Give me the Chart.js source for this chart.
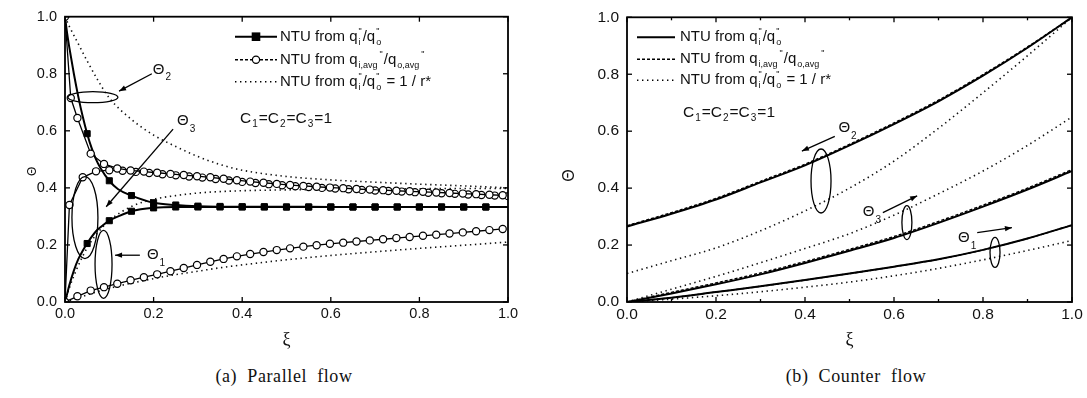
<!DOCTYPE html>
<html><head><meta charset="utf-8">
<script src="https://cdn.jsdelivr.net/npm/chart.js@4.4.0/dist/chart.umd.min.js"></script>
<style>
html,body{margin:0;padding:0;background:#fff;width:1087px;height:398px;overflow:hidden}
.box{position:absolute;top:0}
#wa{left:0;width:540px;height:360px}
#wb{left:540px;width:547px;height:360px}
.cap{position:absolute;top:366px;font-family:"Liberation Serif","DejaVu Serif",serif;font-size:18px;color:#111;word-spacing:5px;letter-spacing:0.6px;transform:translateX(-50%);white-space:nowrap}
</style></head><body>
<div class="box" id="wa"><canvas id="ca"></canvas></div>
<div class="box" id="wb"><canvas id="cb"></canvas></div>
<div class="cap" style="left:284px">(a) Parallel flow</div>
<div class="cap" style="left:856px">(b) Counter flow</div>
<script>
const FF = '"Liberation Sans", Arial, sans-serif';
const tickLabels = ['0.0','0.2','0.4','0.6','0.8','1.0'];

// ---------- (a) Parallel flow ----------
const parLineXi  = [0,0.005,0.01,0.02,0.03,0.04,0.05,0.06,0.07,0.08,0.1,0.12,0.15,0.2,0.25,0.3,0.4,0.5,0.6,0.7,0.8,0.9,1.0];
const parT2Solid = [1.0,0.94,0.89,0.80,0.72,0.65,0.59,0.54,0.50,0.47,0.425,0.395,0.373,0.348,0.34,0.336,0.334,0.334,0.333,0.333,0.333,0.333,0.333];
const parT3Solid = [0,0.03,0.06,0.11,0.15,0.18,0.205,0.228,0.248,0.262,0.285,0.30,0.318,0.33,0.333,0.333,0.333,0.333,0.333,0.333,0.333,0.333,0.333];

const parSqXi = [0.05,0.1,0.15,0.2,0.25,0.3,0.35,0.4,0.45,0.5,0.55,0.6,0.65,0.7,0.75,0.8,0.85,0.9,0.95];
const parT2Sq = [0.59,0.425,0.373,0.348,0.34,0.336,0.335,0.334,0.334,0.333,0.333,0.333,0.333,0.333,0.333,0.333,0.333,0.333,0.333];
const parT3Sq = [0.205,0.285,0.318,0.33,0.333,0.333,0.333,0.333,0.333,0.333,0.333,0.333,0.333,0.333,0.333,0.333,0.333,0.333,0.333];

const parC2Xi = [0,0.013,0.028,0.058,0.088,0.118,0.148,0.178,0.208,0.238,0.268,0.298,0.328,0.358,0.388,0.418,0.448,0.478,0.508,0.538,0.568,0.598,0.628,0.658,0.688,0.718,0.748,0.778,0.808,0.838,0.868,0.898,0.928,0.958,0.988];
const parT2Avg = [1.0,0.715,0.645,0.52,0.484,0.468,0.461,0.457,0.453,0.449,0.445,0.441,0.437,0.432,0.427,0.422,0.418,0.414,0.41,0.407,0.404,0.401,0.399,0.396,0.394,0.392,0.39,0.388,0.386,0.384,0.382,0.38,0.378,0.376,0.374];
const parC3Xi = [0,0.01,0.04,0.07,0.1,0.13,0.16,0.19,0.22,0.25,0.28,0.31,0.34,0.37,0.4,0.43,0.46,0.49,0.52,0.55,0.58,0.61,0.64,0.67,0.7,0.73,0.76,0.79,0.82,0.85,0.88,0.91,0.94,0.97,1.0];
const parT3Avg = [0,0.34,0.437,0.458,0.462,0.46,0.456,0.452,0.448,0.444,0.44,0.436,0.431,0.426,0.421,0.417,0.413,0.409,0.406,0.403,0.4,0.398,0.395,0.393,0.391,0.389,0.387,0.385,0.383,0.381,0.379,0.377,0.375,0.373,0.371];
const parC1Xi = [0,0.028,0.058,0.088,0.118,0.148,0.178,0.208,0.238,0.268,0.298,0.328,0.358,0.388,0.418,0.448,0.478,0.508,0.538,0.568,0.598,0.628,0.658,0.688,0.718,0.748,0.778,0.808,0.838,0.868,0.898,0.928,0.958,0.988];
const parT1Avg = [0,0.02,0.04,0.052,0.064,0.076,0.087,0.097,0.108,0.119,0.13,0.141,0.151,0.16,0.168,0.175,0.182,0.188,0.194,0.199,0.204,0.208,0.212,0.216,0.22,0.224,0.228,0.232,0.236,0.24,0.244,0.248,0.252,0.256];

const parDotXi = [0,0.01,0.025,0.05,0.075,0.1,0.15,0.2,0.25,0.3,0.35,0.4,0.5,0.6,0.7,0.8,0.9,1.0];
const parT2Dot = [1.0,0.965,0.92,0.845,0.775,0.715,0.64,0.585,0.545,0.51,0.482,0.462,0.44,0.428,0.42,0.413,0.407,0.40];
const parT3Dot = [0,0.05,0.11,0.19,0.245,0.285,0.335,0.36,0.373,0.382,0.387,0.39,0.393,0.395,0.396,0.397,0.398,0.398];
const parT1Dot = [0,0.005,0.012,0.025,0.037,0.048,0.066,0.082,0.096,0.108,0.12,0.13,0.148,0.163,0.176,0.188,0.199,0.21];

// ---------- (b) Counter flow ----------
const cntXi    = [0,0.1,0.2,0.3,0.4,0.5,0.6,0.7,0.8,0.9,1.0];
const cntT2Sol = [0.265,0.31,0.36,0.42,0.48,0.55,0.625,0.705,0.795,0.893,1.0];
const cntT2Avg = [0.268,0.314,0.364,0.424,0.484,0.554,0.629,0.709,0.799,0.896,1.0];
const cntT2Dot = [0.10,0.145,0.19,0.25,0.32,0.40,0.495,0.61,0.735,0.865,1.0];
const cntT3Sol = [0,0.03,0.062,0.097,0.137,0.18,0.225,0.278,0.335,0.395,0.46];
const cntT3Avg = [0,0.034,0.067,0.102,0.142,0.185,0.23,0.283,0.34,0.4,0.465];
const cntT3Dot = [0,0.045,0.09,0.138,0.188,0.24,0.305,0.38,0.46,0.55,0.65];
const cntT1Sol = [0,0.015,0.035,0.055,0.077,0.10,0.124,0.15,0.183,0.223,0.27];
const cntT1Avg = [0,0.015,0.035,0.055,0.077,0.10,0.124,0.15,0.183,0.223,0.27];
const cntT1Dot = [0,0.01,0.022,0.036,0.052,0.07,0.092,0.118,0.148,0.181,0.216];

function pts(xs, ys){ return xs.map((x,i)=>({x:x,y:ys[i]})); }

const SOLID = {borderColor:'#000',borderWidth:2,pointRadius:0,showLine:true,cubicInterpolationMode:'monotone',fill:false};
const DOT   = {borderColor:'#111',borderWidth:1.6,borderDash:[1.4,3.6],pointRadius:0,showLine:true,cubicInterpolationMode:'monotone',fill:false};
const DASH  = {borderColor:'#000',borderWidth:1.4,borderDash:[3,2],pointRadius:0,showLine:true,cubicInterpolationMode:'monotone',fill:false};
const CIRC  = {borderColor:'#000',borderWidth:1.3,pointRadius:3.6,pointBorderWidth:1.2,pointBackgroundColor:'#fff',pointBorderColor:'#000',showLine:true,fill:false};
const SQ    = {showLine:false,pointStyle:'rect',pointRadius:4.3,pointBackgroundColor:'#000',pointBorderColor:'#000',borderColor:'#000'};

function rich(ctx, x, y, parts, size){
  let cx = x;
  ctx.textBaseline='middle'; ctx.textAlign='left'; ctx.fillStyle='#111';
  for (const p of parts){
    if (typeof p === 'string'){
      ctx.font = size+'px '+FF; ctx.fillText(p,cx,y); cx += ctx.measureText(p).width;
    } else {
      const s = p.size || Math.round(size*0.62);
      ctx.font = s+'px '+FF; let w = 0;
      if (p.sup){ ctx.fillText(p.sup,cx+1,y-size*0.36); w=Math.max(w,ctx.measureText(p.sup).width+1); }
      if (p.sub){ ctx.fillText(p.sub,cx+1,y+size*(p.dy||0.36)); w=Math.max(w,ctx.measureText(p.sub).width+1); }
      cx += w + (p.gap||1);
    }
  }
  return cx;
}

const deco = {
  id:'deco',
  afterDatasetsDraw(chart, args, o){
    const {ctx, chartArea:a, scales:{x,y}} = chart;
    ctx.save();
    ctx.strokeStyle='#000'; ctx.lineWidth=1.8;
    ctx.strokeRect(a.left,a.top,a.right-a.left,a.bottom-a.top);
    ctx.lineWidth=1.3;
    const L=5, Lm=3;
    const seg=(x1,y1,x2,y2)=>{ctx.beginPath();ctx.moveTo(x1,y1);ctx.lineTo(x2,y2);ctx.stroke();};
    x.ticks.forEach(t=>{const p=x.getPixelForValue(t.value);seg(p,a.bottom,p,a.bottom-L);seg(p,a.top,p,a.top+L);});
    y.ticks.forEach(t=>{const p=y.getPixelForValue(t.value);seg(a.left,p,a.left+L,p);seg(a.right,p,a.right-L,p);});
    if (o.minorX){ o.minorX.forEach(v=>{const p=x.getPixelForValue(v);seg(p,a.bottom,p,a.bottom-Lm);seg(p,a.top,p,a.top+Lm);}); }
    ctx.lineWidth=1.3;
    (o.ellipses||[]).forEach(e=>{ctx.beginPath();ctx.ellipse(x.getPixelForValue(e.x),y.getPixelForValue(e.y),e.rx,e.ry,0,0,Math.PI*2);ctx.stroke();});
    (o.arrows||[]).forEach(r=>{
      const x1=x.getPixelForValue(r.from[0]),y1=y.getPixelForValue(r.from[1]);
      const x2=x.getPixelForValue(r.to[0]),y2=y.getPixelForValue(r.to[1]);
      seg(x1,y1,x2,y2);
      const an=Math.atan2(y2-y1,x2-x1),h=7,w=2.6;
      ctx.beginPath();ctx.moveTo(x2,y2);
      ctx.lineTo(x2-h*Math.cos(an)+w*Math.sin(an),y2-h*Math.sin(an)-w*Math.cos(an));
      ctx.lineTo(x2-h*Math.cos(an)-w*Math.sin(an),y2-h*Math.sin(an)+w*Math.cos(an));
      ctx.closePath();ctx.fillStyle='#000';ctx.fill();
    });
    (o.labels||[]).forEach(l=>{
      rich(ctx,x.getPixelForValue(l.x),y.getPixelForValue(l.y),['\u0398',{sub:l.sub,size:10,dy:0.55,gap:0}],15);
    });
    const lg=o.legend;
    if (lg){
      lg.rows.forEach(r=>{
        const yy=a.top+r.dy, x0=a.left+lg.x0, x1=a.left+lg.x1;
        ctx.strokeStyle='#000';
        if (r.kind==='solid'){ctx.lineWidth=2;ctx.setLineDash([]);}
        else if (r.kind==='dash'){ctx.lineWidth=1.4;ctx.setLineDash([3,2]);}
        else {ctx.lineWidth=1.6;ctx.setLineDash([1.4,3.6]);}
        seg(x0,yy,x1,yy); ctx.setLineDash([]);
        const mx=(x0+x1)/2;
        if (r.marker==='sq'){ctx.fillStyle='#000';ctx.fillRect(mx-4.3,yy-4.3,8.6,8.6);}
        if (r.marker==='circ'){ctx.beginPath();ctx.arc(mx,yy,3.6,0,Math.PI*2);ctx.fillStyle='#fff';ctx.fill();ctx.lineWidth=1.2;ctx.stroke();}
        rich(ctx,a.left+lg.tx,yy,r.text,15);
      });
      rich(ctx,a.left+lg.cx,a.top+lg.cy,['C',{sub:'1'},'=C',{sub:'2'},'=C',{sub:'3'},'=1'],15.5);
    }
    ctx.restore();
  }
};

const legendText = [
  ['NTU from q',{sup:'"',sub:'i'},'/q',{sup:'"',sub:'o'}],
  ['NTU from q',{sub:'i,avg'},{sup:'"'},'/q',{sub:'o,avg'},{sup:'"'}],
  ['NTU from q',{sup:'"',sub:'i'},'/q',{sup:'"',sub:'o'},' = 1 / r*']
];

function scales(yw, tsize, ttl){
  const tk = {font:{family:FF,size:tsize},color:'#111'};
  return {
    x:{type:'linear',min:0,max:1,grid:{display:false,drawTicks:false},border:{display:false},
       ticks:Object.assign({stepSize:0.2,padding:3,maxRotation:0,callback:(v,i)=>tickLabels[i]},tk),
       title:{display:true,text:'\u03BE',font:{family:'"Liberation Serif", serif',size:18},color:'#111',padding:{top:0,bottom:9}},
       afterFit:s=>{s.height=58;}},
    y:{type:'linear',min:0,max:1,grid:{display:false,drawTicks:false},border:{display:false},
       ticks:Object.assign({stepSize:0.2,padding:8,callback:(v,i)=>tickLabels[i]},tk),
       title:{display:true,text:'\u0398'+ttl.trail,font:{family:FF,size:ttl.size},color:'#111',padding:{top:ttl.pad,bottom:0}},
       afterFit:s=>{s.width=yw;}}
  };
}

const common = {responsive:true,maintainAspectRatio:false,animation:false,events:[]};

new Chart(document.getElementById('ca'),{
  type:'scatter',
  data:{datasets:[
    Object.assign({data:pts(parSqXi,parT2Sq),order:0},SQ),
    Object.assign({data:pts(parSqXi,parT3Sq),order:0},SQ),
    Object.assign({data:pts(parC2Xi,parT2Avg),order:1},CIRC),
    Object.assign({data:pts(parC3Xi,parT3Avg),order:1},CIRC),
    Object.assign({data:pts(parC1Xi,parT1Avg),order:1},CIRC),
    Object.assign({data:pts(parLineXi,parT2Solid),order:2},SOLID),
    Object.assign({data:pts(parLineXi,parT3Solid),order:2},SOLID),
    Object.assign({data:pts(parDotXi,parT2Dot),order:3},DOT),
    Object.assign({data:pts(parDotXi,parT3Dot),order:3},DOT),
    Object.assign({data:pts(parDotXi,parT1Dot),order:3},DOT)
  ]},
  options:Object.assign({},common,{
    layout:{padding:{left:0,right:32,top:15,bottom:0}},
    scales:scales(65,14.5,{size:12,pad:25,trail:'\u2002\u2002\u2002\u2002'}),
    plugins:{legend:{display:false},tooltip:{enabled:false},
      deco:{
        ellipses:[{x:0.063,y:0.718,rx:25,ry:5.5},{x:0.045,y:0.296,rx:13,ry:41},{x:0.087,y:0.132,rx:8.5,ry:34}],
        arrows:[{from:[0.196,0.80],to:[0.122,0.739]},{from:[0.244,0.606],to:[0.093,0.334]},{from:[0.169,0.164],to:[0.113,0.164]}],
        labels:[{x:0.198,y:0.815,sub:'2'},{x:0.253,y:0.634,sub:'3'},{x:0.185,y:0.164,sub:'1'}],
        legend:{x0:170,x1:212,tx:215,cx:175,cy:102,rows:[
          {dy:20,kind:'solid',marker:'sq',text:legendText[0]},
          {dy:43,kind:'dash',marker:'circ',text:legendText[1]},
          {dy:65,kind:'dot',text:legendText[2]}]}
      }}
  }),
  plugins:[deco]
});

new Chart(document.getElementById('cb'),{
  type:'scatter',
  data:{datasets:[
    Object.assign({data:pts(cntXi,cntT2Sol),order:1},SOLID),
    Object.assign({data:pts(cntXi,cntT2Avg),order:0},DASH),
    Object.assign({data:pts(cntXi,cntT2Dot),order:2},DOT),
    Object.assign({data:pts(cntXi,cntT3Sol),order:1},SOLID),
    Object.assign({data:pts(cntXi,cntT3Avg),order:0},DASH),
    Object.assign({data:pts(cntXi,cntT3Dot),order:2},DOT),
    Object.assign({data:pts(cntXi,cntT1Sol),order:1},SOLID),
    Object.assign({data:pts(cntXi,cntT1Avg),order:0},DASH),
    Object.assign({data:pts(cntXi,cntT1Dot),order:2},DOT)
  ]},
  options:Object.assign({},common,{
    layout:{padding:{left:0,right:15,top:15,bottom:0}},
    scales:scales(87,15.5,{size:16,pad:20,trail:'\u2002\u2002\u2002\u2002'}),
    plugins:{legend:{display:false},tooltip:{enabled:false},
      deco:{
        minorX:[0.1,0.3,0.5,0.7,0.9],
        ellipses:[{x:0.436,y:0.425,rx:10,ry:32},{x:0.629,y:0.279,rx:5,ry:17},{x:0.827,y:0.174,rx:5,ry:15}],
        arrows:[{from:[0.467,0.582],to:[0.393,0.530]},{from:[0.575,0.314],to:[0.652,0.373]},{from:[0.787,0.244],to:[0.865,0.261]}],
        labels:[{x:0.475,y:0.61,sub:'2'},{x:0.530,y:0.317,sub:'3'},{x:0.744,y:0.226,sub:'1'}],
        legend:{x0:10,x1:48,tx:53,cx:56,cy:95,rows:[
          {dy:20,kind:'solid',text:legendText[0]},
          {dy:42,kind:'dash',text:legendText[1]},
          {dy:63,kind:'dot',text:legendText[2]}]}
      }}
  }),
  plugins:[deco]
});
</script>
</body></html>
